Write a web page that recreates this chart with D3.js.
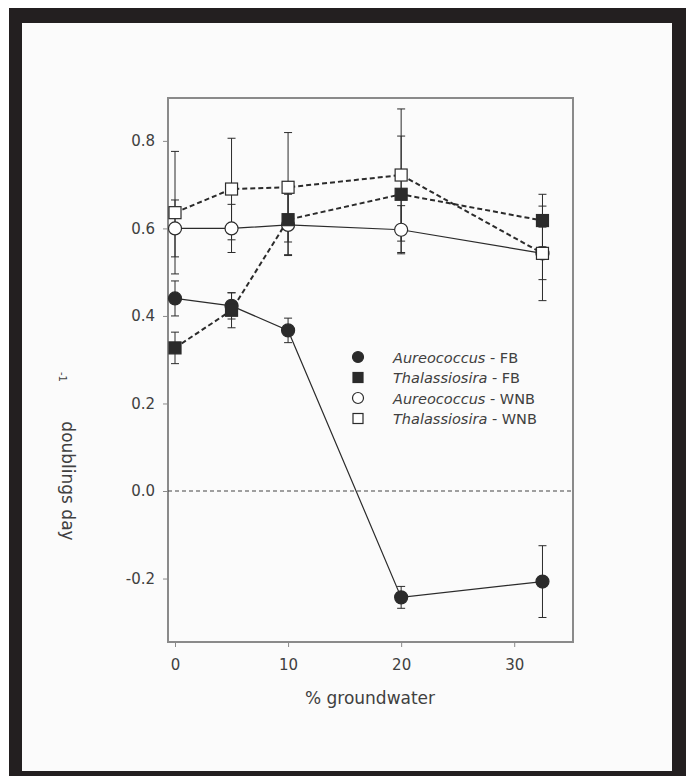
<!DOCTYPE html>
<html lang="en">
<head>
<meta charset="UTF-8">
<title>Growth rate vs groundwater</title>
<script src="https://d3js.org/d3.v7.min.js"></script>
<style>
    body { margin: 0; padding: 0; background: #ffffff; overflow: hidden; }
    svg text { font-family: "DejaVu Sans", "Liberation Sans", Arial, sans-serif; fill: #404040; }
</style>
</head>
<body>
<div id="chart"></div>
<script>
    // % groundwater treatments
    const groundwater = [0, 5, 10, 20, 32.5];

    // growth rate (doublings per day) and error bars
    const aureoFB = [0.44, 0.423, 0.367, -0.243, -0.207];
    const aureoFBErr = [0.04, 0.03, 0.028, 0.025, 0.082];
    const thalFB = [0.327, 0.413, 0.62, 0.678, 0.618];
    const thalFBErr = [0.036, 0.04, 0.08, 0.133, 0.06];
    const aureoWNB = [0.6, 0.6, 0.608, 0.597, 0.543];
    const aureoWNBErr = [0.065, 0.055, 0.07, 0.055, 0.06];
    const thalWNB = [0.636, 0.69, 0.694, 0.722, 0.543];
    const thalWNBErr = [0.14, 0.116, 0.125, 0.151, 0.108];

    const xTicks = [0, 10, 20, 30];
    const yTicks = [-0.2, 0.0, 0.2, 0.4, 0.6, 0.8];

    const series = [
        { genus: "Aureococcus", site: "FB", values: aureoFB, err: aureoFBErr, shape: "circle", filled: true, dashed: false },
        { genus: "Thalassiosira", site: "FB", values: thalFB, err: thalFBErr, shape: "square", filled: true, dashed: true },
        { genus: "Aureococcus", site: "WNB", values: aureoWNB, err: aureoWNBErr, shape: "circle", filled: false, dashed: false },
        { genus: "Thalassiosira", site: "WNB", values: thalWNB, err: thalWNBErr, shape: "square", filled: false, dashed: true }
    ];

    const W = 686, H = 776;
    const svg = d3.select("#chart").append("svg")
        .attr("width", W)
        .attr("height", H);

    // black photo frame
    svg.append("rect").attr("x", 9).attr("y", 8).attr("width", W - 9).attr("height", H - 8).attr("fill", "#231f20");
    svg.append("rect").attr("x", 22).attr("y", 23).attr("width", 650).attr("height", 748).attr("fill", "#fbfbfb");

    const x = d3.scaleLinear().domain([-0.62, 35.2]).range([168, 573]);
    const y = d3.scaleLinear().domain([-0.345, 0.898]).range([642, 98]);

    const axisColor = "#8a8a8a";
    const ink = "#2b2b2b";

    // plot box
    svg.append("rect")
        .attr("x", x.range()[0]).attr("y", y.range()[1])
        .attr("width", x.range()[1] - x.range()[0])
        .attr("height", y.range()[0] - y.range()[1])
        .attr("fill", "none").attr("stroke", axisColor).attr("stroke-width", 2);

    const xAxis = svg.append("g")
        .attr("transform", `translate(0,${y.range()[0]})`)
        .call(d3.axisBottom(x).tickValues(xTicks).tickSize(5).tickPadding(12).tickFormat(d3.format("d")));
    xAxis.select(".domain").remove();
    xAxis.selectAll("line").attr("stroke", axisColor);
    xAxis.selectAll("text").attr("font-size", 15);

    const yAxis = svg.append("g")
        .attr("transform", `translate(${x.range()[0]},0)`)
        .call(d3.axisLeft(y).tickValues(yTicks).tickSize(5).tickPadding(8).tickFormat(d => d.toFixed(1)));
    yAxis.select(".domain").remove();
    yAxis.selectAll("line").attr("stroke", axisColor);
    yAxis.selectAll("text").attr("font-size", 15);

    // zero line
    svg.append("line")
        .attr("x1", x.range()[0]).attr("x2", x.range()[1])
        .attr("y1", y(0)).attr("y2", y(0))
        .attr("stroke", "#444").attr("stroke-width", 1.2).attr("stroke-dasharray", "4,3");

    // error bars
    series.forEach(s => {
        const g = svg.append("g");
        groundwater.forEach((gw, i) => {
            const cx = x(gw), lo = y(s.values[i] - s.err[i]), hi = y(s.values[i] + s.err[i]);
            g.append("line").attr("x1", cx).attr("x2", cx).attr("y1", lo).attr("y2", hi)
                .attr("stroke", ink).attr("stroke-width", 1);
            [lo, hi].forEach(yy => g.append("line")
                .attr("x1", cx - 4).attr("x2", cx + 4).attr("y1", yy).attr("y2", yy)
                .attr("stroke", ink).attr("stroke-width", 1));
        });
    });

    // connecting lines
    const line = d3.line().x((d, i) => x(groundwater[i])).y(d => y(d));
    series.forEach(s => {
        svg.append("path")
            .attr("d", line(s.values))
            .attr("fill", "none")
            .attr("stroke", ink)
            .attr("stroke-width", s.dashed ? 2 : 1.2)
            .attr("stroke-dasharray", s.dashed ? "5,3" : null);
    });

    function marker(g, s, cx, cy, size) {
        if (s.shape === "circle") {
            g.append("circle").attr("cx", cx).attr("cy", cy).attr("r", size / 2)
                .attr("fill", s.filled ? ink : "#ffffff").attr("stroke", ink).attr("stroke-width", 1.2);
        } else {
            g.append("rect").attr("x", cx - size / 2).attr("y", cy - size / 2)
                .attr("width", size).attr("height", size)
                .attr("fill", s.filled ? ink : "#ffffff").attr("stroke", ink).attr("stroke-width", 1.2);
        }
    }

    // markers (open ones drawn last, as in the original)
    [2, 3, 0, 1].forEach(k => {
        const s = series[k];
        const g = svg.append("g");
        s.values.forEach((v, i) => marker(g, s, x(groundwater[i]), y(v), s.shape === "circle" ? 13 : 12));
    });

    // legend
    const legend = svg.append("g");
    series.forEach((s, i) => {
        const ly = 357 + i * 20.5;
        marker(legend, s, 358, ly, s.shape === "circle" ? 11 : 10);
        const t = legend.append("text").attr("x", 393).attr("y", ly + 5.5).attr("font-size", 14.5);
        t.append("tspan").attr("font-style", "italic").text(s.genus);
        t.append("tspan").text(" - " + s.site);
    });

    // axis titles
    svg.append("text")
        .attr("x", 370).attr("y", 704)
        .attr("text-anchor", "middle").attr("font-size", 17)
        .text("% groundwater");

    svg.append("text")
        .attr("transform", "translate(68,481) rotate(90)")
        .attr("text-anchor", "middle").attr("dominant-baseline", "central").attr("font-size", 17)
        .text("doublings day");

    svg.append("text")
        .attr("transform", "translate(62,377) rotate(90)")
        .attr("text-anchor", "middle").attr("dominant-baseline", "central").attr("font-size", 10)
        .text("-1");
</script>
</body>
</html>
